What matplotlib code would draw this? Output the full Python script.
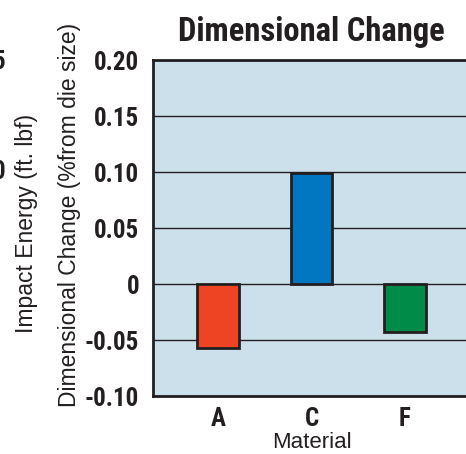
import matplotlib.pyplot as plt
from matplotlib import font_manager

materials = ['A', 'C', 'F']
dim_change = [-0.057, 0.099, -0.043]
bar_colors = ['#ee4423', '#0077c0', '#008c48']
y_ticks = [-0.10, -0.05, 0, 0.05, 0.10, 0.15, 0.20]
y_tick_labels = ['-0.10', '-0.05', '0', '0.05', '0.10', '0.15', '0.20']

# look for a condensed bold face, the original uses Helvetica Condensed
bold = font_manager.FontProperties(family='Liberation Sans', weight='bold')
cond = False
for fam in ['Liberation Sans Narrow', 'Roboto Condensed', 'DejaVu Sans']:
    fp = font_manager.FontProperties(family=fam, weight='bold', stretch='condensed')
    try:
        path = font_manager.findfont(fp, fallback_to_default=False)
    except ValueError:
        continue
    if 'Narrow' in path or 'Condensed' in path:
        bold = fp
        cond = True
        break
tick_size = 18 if cond else 16
title_size = 23.5 if cond else 20

plt.rcParams['font.family'] = ['Liberation Sans', 'DejaVu Sans']

fig = plt.figure(figsize=(4.66, 4.54), dpi=100)
# axes runs a little past the right edge, like the cropped original
ax = fig.add_axes([153 / 466, 1 - 396 / 454, 317 / 466, 336 / 454])
ax.set_facecolor('#cce0eb')

ax.bar(range(len(materials)), dim_change, width=0.44, color=bar_colors,
       edgecolor='#231f20', linewidth=2, zorder=3)

ax.set_ylim(-0.10, 0.20)
ax.set_xlim(-0.695, 2.695)
ax.set_yticks(y_ticks)
ax.set_yticklabels(y_tick_labels, fontproperties=bold, fontsize=tick_size)
ax.set_xticks(range(len(materials)))
ax.set_xticklabels(materials, fontproperties=bold, fontsize=tick_size)
ax.tick_params(length=0, colors='#231f20')
ax.tick_params(axis='y', pad=10)
ax.tick_params(axis='x', pad=8)
ax.yaxis.grid(True, color='#231f20', linewidth=1)
ax.set_axisbelow(True)
for s in ax.spines.values():
    s.set_linewidth(2)
    s.set_color('#231f20')

title_fp = bold.copy()
title_fp.set_size(title_size)
ax.set_title('Dimensional Change', fontproperties=title_fp, color='#231f20', pad=14)
ax.set_xlabel('Material', fontsize=16, color='#231f20')
ax.xaxis.set_label_coords(312 / 466, 1 - 443 / 454, transform=fig.transFigure)
ax.set_ylabel('Dimensional Change (%from die size)', fontsize=16.5, color='#231f20')
ax.yaxis.set_label_coords(70 / 466, 1 - 215 / 454, transform=fig.transFigure)
ax.xaxis.label.set_va('center')
ax.yaxis.label.set_va('center')

# bits of the neighbouring chart that show at the left
fig.text(27 / 466, 1 - 223 / 454, 'Impact Energy (ft. lbf)', rotation=90,
         ha='center', va='center', fontsize=16.5, color='#231f20')
fig.text(6 / 466, 1 - 62 / 454, '5', ha='right', va='center',
         fontproperties=bold, fontsize=tick_size, color='#231f20')
fig.text(6 / 466, 1 - 172 / 454, '0', ha='right', va='center',
         fontproperties=bold, fontsize=tick_size, color='#231f20')

fig.savefig('out.png', dpi=100)
